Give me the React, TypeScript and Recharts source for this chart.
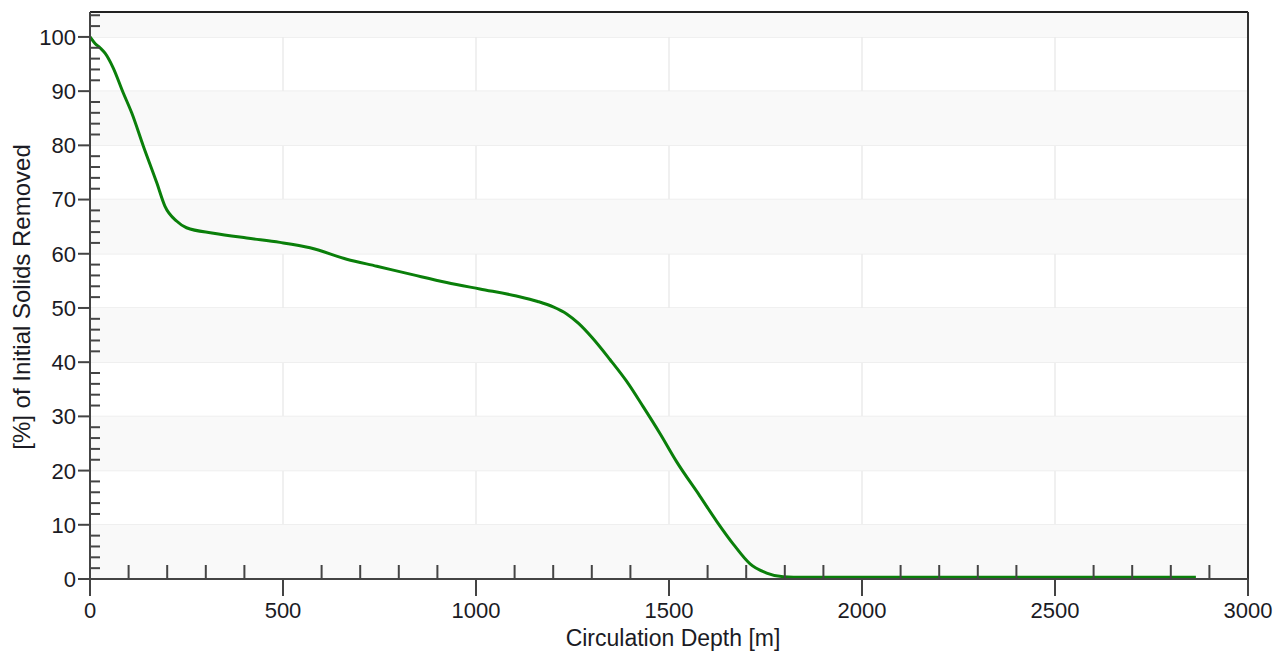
import React from 'react';
import { CartesianGrid, Line, LineChart, ReferenceArea, ReferenceLine, XAxis, YAxis } from 'recharts';

// circulation depth [m] vs. % of initial solids removed
const depth = [
  0, 13, 26, 39, 60, 86, 108, 138, 173, 194, 225, 250, 320, 406, 492, 570, 665, 743, 838, 924, 1010, 1105, 1160,
  1200, 1235, 1265, 1300, 1347, 1390, 1433, 1477, 1520, 1580, 1624, 1667, 1710, 1753, 1796, 1850, 2000, 2500, 2865,
];
const removed = [
  100, 98.8, 98.0, 97.0, 94.3, 89.7, 86, 79.9, 73.1, 68.8, 66, 64.8, 63.8, 62.9, 62.1, 61.1, 59.0, 57.7, 56.1, 54.7,
  53.5, 52.2, 51.2, 50.2, 48.9, 47.2, 44.6, 40.5, 36.5, 31.8, 26.8, 21.6, 15.3, 10.6, 6.4, 2.8, 1.1, 0.4, 0.3, 0.3,
  0.3, 0.3,
];

const xMajor = [0, 500, 1000, 1500, 2000, 2500, 3000];
const yMajor = [0, 10, 20, 30, 40, 50, 60, 70, 80, 90, 100];
const xTicks = Array.from({ length: 31 }, (_, i) => i * 100);
const yTicks = Array.from({ length: 53 }, (_, i) => i * 2);
const yMax = 104.6;

const data = depth.map((d, i) => ({ depth: d, removed: removed[i] }));

const FONT = '"Liberation Sans", Arial, sans-serif';
const AXIS = '#444';

function YTick(props: any) {
  const { x, y, payload } = props;
  const v = payload.value as number;
  if (v % 10 === 0) {
    return (
      <g>
        <line x1={x - 12} x2={x} y1={y} y2={y} stroke={AXIS} strokeWidth={2} />
        <text x={x - 14} y={y} dy="0.36em" textAnchor="end" fontSize={22} fontFamily={FONT} fill="#1b1b24">
          {v}
        </text>
      </g>
    );
  }
  return <line x1={x} x2={x + 10} y1={y} y2={y} stroke={AXIS} strokeWidth={2} />;
}

function XTick(props: any) {
  const { x, y, payload } = props;
  const v = payload.value as number;
  if (v % 500 === 0) {
    return (
      <g>
        <line x1={x} x2={x} y1={y} y2={y + 17} stroke={AXIS} strokeWidth={2} />
        <text x={x} y={y + 39} textAnchor="middle" fontSize={22} fontFamily={FONT} fill="#1b1b24">
          {v}
        </text>
      </g>
    );
  }
  return <line x1={x} x2={x} y1={y} y2={y - 14} stroke={AXIS} strokeWidth={2} />;
}

export default function App() {
  const bands = yMajor.filter((v) => v % 20 === 0).map((v) => [v, Math.min(v + 10, yMax)]);

  return (
    <div style={{ position: 'absolute', left: 0, top: 0, width: 1277, height: 652, background: '#fff' }}>
      <LineChart width={1277} height={652} data={data} margin={{ top: 12, right: 29, bottom: 0, left: 0 }}>
        {bands.map(([a, b]) => (
          <ReferenceArea key={a} y1={a} y2={b} fill="#f9f9f9" fillOpacity={1} stroke="none" />
        ))}
        <CartesianGrid stroke="#ebebeb" strokeWidth={1.5} horizontalValues={yMajor} verticalValues={xMajor} />
        <ReferenceLine y={yMax} stroke="#222" strokeWidth={2} />
        <ReferenceLine x={3000} stroke="#333" strokeWidth={2} />
        <XAxis
          dataKey="depth"
          type="number"
          domain={[0, 3000]}
          ticks={xTicks}
          interval={0}
          height={73}
          tickSize={0}
          tickMargin={0}
          tickLine={false}
          axisLine={{ stroke: AXIS, strokeWidth: 2 }}
          tick={<XTick />}
        />
        <YAxis
          type="number"
          domain={[0, yMax]}
          allowDataOverflow
          ticks={yTicks}
          interval={0}
          width={90}
          tickSize={0}
          tickMargin={0}
          tickLine={false}
          axisLine={{ stroke: AXIS, strokeWidth: 2 }}
          tick={<YTick />}
        />
        <Line
          type="monotone"
          dataKey="removed"
          stroke="#0a7f0a"
          strokeWidth={3}
          dot={false}
          activeDot={false}
          isAnimationActive={false}
        />
      </LineChart>
      <svg width={1277} height={652} style={{ position: 'absolute', left: 0, top: 0, pointerEvents: 'none' }}>
        <text x={673} y={646} textAnchor="middle" fontSize={23} fontFamily={FONT} fill="#1b1b24">
          Circulation Depth [m]
        </text>
        <text
          transform="translate(21,297) rotate(-90)"
          textAnchor="middle"
          dy="0.36em"
          fontSize={24}
          fontFamily={FONT}
          fill="#1b1b24"
        >
          [%] of Initial Solids Removed
        </text>
      </svg>
    </div>
  );
}
